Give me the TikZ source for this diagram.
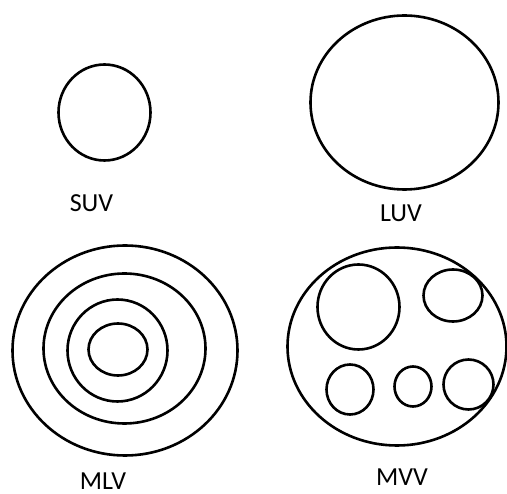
\documentclass[tikz,border=0pt]{standalone}
\usepackage{fontspec}
\setmainfont{Carlito}
\begin{document}
\begin{tikzpicture}[x=1pt, y=-1pt, line width=2.6pt,
  lbl/.style={font=\fontsize{26}{30}\selectfont, inner sep=0pt}]
\useasboundingbox (0,0) rectangle (507,494);
% small unilocular
\draw (104.5,112.5) ellipse [x radius=46, y radius=48];
\node[lbl] (suv) at (91.5,203) {SUV};
% large unilocular
\draw (404.5,102.5) ellipse [x radius=94, y radius=87];
\node[lbl] (luv) at (401,213) {LUV};
% multilamellar
\draw (125,350.5) ellipse [x radius=112.5, y radius=105];
\draw (124.5,348.5) ellipse [x radius=81, y radius=75];
\draw (117.5,350.5) ellipse [x radius=50, y radius=51];
\draw (118,349.5) ellipse [x radius=29.5, y radius=26];
\node[lbl] (mlv) at (103,481) {MLV};
% multivesicular
\draw (397,346.5) ellipse [x radius=109.5, y radius=99];
\draw (358.5,307) ellipse [x radius=41, y radius=42.5];
\draw (453,295.5) ellipse [x radius=29.5, y radius=26];
\draw (350,389.5) ellipse [x radius=23.5, y radius=25];
\draw (413,386.5) ellipse [x radius=18.5, y radius=20];
\draw (468.5,384.5) ellipse [x radius=25, y radius=25];
\node[lbl] (mvv) at (402,477.5) {MVV};
\end{tikzpicture}
\end{document}
